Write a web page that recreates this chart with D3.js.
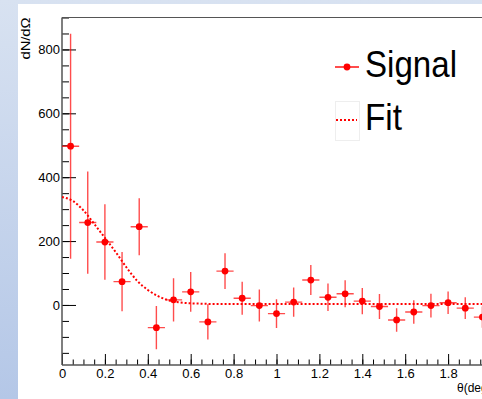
<!DOCTYPE html>
<html>
<head>
<meta charset="utf-8">
<script src="https://cdn.jsdelivr.net/npm/d3@7"></script>
<style>
  body { margin: 0; background: #fff; }
  text { font-family: "Liberation Sans", Arial, sans-serif; }
</style>
</head>
<body>
<svg id="chart"></svg>
<script>
var width = 482,
    height = 399;

// bin centres (theta, deg) and measured signal with errors
var theta = [0.04, 0.12, 0.20, 0.28, 0.36, 0.44, 0.52, 0.60, 0.68, 0.76, 0.84, 0.92, 1.00,
             1.08, 1.16, 1.24, 1.32, 1.40, 1.48, 1.56, 1.64, 1.72, 1.80, 1.88, 1.96];
var signal = [497, 258, 197, 73, 245, -71, 16, 41, -53, 106, 21, -2, -27,
              9, 78, 24, 35, 12, -5, -47, -22, -2, 7, -10, -38];
var signalErr = [352, 160, 118, 93, 89, 68, 68, 62, 55, 56, 52, 50, 45,
                 46, 47, 43, 42, 41, 39, 37, 37, 37, 35, 34, 33];
var thetaErr = 0.04;

// fit curve
var fitTheta = [0, 0.05, 0.10, 0.15, 0.20, 0.25, 0.30, 0.35, 0.40, 0.45, 0.50, 0.55, 0.60, 0.65, 0.70, 2.0];
var fitValue = [338, 326, 296, 254, 210, 166, 118, 76, 47, 27, 14, 8, 5, 4, 3, 3];

var xTicks = [0, 0.2, 0.4, 0.6, 0.8, 1, 1.2, 1.4, 1.6, 1.8, 2];
var yTicks = [0, 200, 400, 600, 800];

var frameL = 62, frameR = 491, frameT = 17.5, frameB = 365;

var svg = d3.select("#chart").attr("width", width).attr("height", height);

// canvas background
var defs = svg.append("defs");
var grad = defs.append("linearGradient").attr("id", "side")
  .attr("x1", 0).attr("y1", 0).attr("x2", 0).attr("y2", 1);
grad.append("stop").attr("offset", 0).attr("stop-color", "#d8e2f1");
grad.append("stop").attr("offset", 1).attr("stop-color", "#b4c7e7");
svg.append("rect").attr("width", width).attr("height", height).attr("fill", "url(#side)");
svg.append("rect").attr("x", 18).attr("y", 4).attr("width", width - 18).attr("height", height - 4)
  .attr("fill", "#fff");

defs.append("clipPath").attr("id", "frame")
  .append("rect").attr("x", frameL).attr("y", frameT)
  .attr("width", frameR - frameL).attr("height", frameB - frameT);

var x = d3.scaleLinear().domain([0, 2]).range([frameL, frameR]);
var y = d3.scaleLinear().domain([-188, 900]).range([frameB, frameT]);

// minor ticks
svg.append("g").attr("transform", "translate(0," + frameB + ")")
  .call(d3.axisBottom(x).tickValues(x.ticks(40)).tickSizeInner(-5.5).tickSizeOuter(0).tickFormat(""))
  .call(g => g.select(".domain").remove());
svg.append("g").attr("transform", "translate(" + frameL + ",0)")
  .call(d3.axisLeft(y).tickValues(y.ticks(20)).tickSizeInner(-7).tickSizeOuter(0).tickFormat(""))
  .call(g => g.select(".domain").remove());

// major ticks + labels
var xAxis = svg.append("g").attr("transform", "translate(0," + frameB + ")")
  .call(d3.axisBottom(x).tickValues(xTicks).tickSizeInner(-11).tickSizeOuter(0).tickPadding(4)
    .tickFormat(d => String(d)));
xAxis.select(".domain").remove();
xAxis.selectAll("text").attr("font-size", 13).attr("fill", "#000");

var yAxis = svg.append("g").attr("transform", "translate(" + frameL + ",0)")
  .call(d3.axisLeft(y).tickValues(yTicks).tickSizeInner(-14).tickSizeOuter(0).tickPadding(2));
yAxis.select(".domain").remove();
yAxis.selectAll("text").attr("font-size", 13).attr("fill", "#000");

// frame lines
svg.append("line").attr("x1", frameL).attr("x2", frameR).attr("y1", frameT).attr("y2", frameT)
  .attr("stroke", "#555").attr("stroke-width", 1.2);
svg.append("line").attr("x1", frameL).attr("x2", frameL).attr("y1", frameT).attr("y2", frameB)
  .attr("stroke", "#555").attr("stroke-width", 1.5);
svg.append("line").attr("x1", frameL).attr("x2", frameR).attr("y1", frameB).attr("y2", frameB)
  .attr("stroke", "#555").attr("stroke-width", 1.5);

// axis titles
svg.append("text").attr("transform", "translate(30,17.5) rotate(-90)")
  .attr("text-anchor", "end").attr("font-size", 12).attr("textLength", 42)
  .attr("lengthAdjust", "spacingAndGlyphs").text("dN/dΩ");
svg.append("text").attr("x", 457).attr("y", 392).attr("font-size", 12).text("θ(deg)");

var plot = svg.append("g").attr("clip-path", "url(#frame)");

// fit
var fitLine = d3.line().x(d => x(d[0])).y(d => y(d[1])).curve(d3.curveMonotoneX);
plot.append("path").datum(d3.zip(fitTheta, fitValue))
  .attr("d", fitLine).attr("fill", "none").attr("stroke", "#ff0000")
  .attr("stroke-width", 2).attr("stroke-dasharray", "2,2");

// signal points
var pts = plot.append("g").selectAll("g").data(d3.range(theta.length)).enter().append("g");
pts.append("line")
  .attr("x1", i => x(theta[i])).attr("x2", i => x(theta[i]))
  .attr("y1", i => y(signal[i] - signalErr[i])).attr("y2", i => y(signal[i] + signalErr[i]))
  .attr("stroke", "#ff0000").attr("stroke-opacity", 0.7).attr("stroke-width", 1.4);
pts.append("line")
  .attr("x1", i => x(theta[i] - thetaErr)).attr("x2", i => x(theta[i] + thetaErr))
  .attr("y1", i => y(signal[i])).attr("y2", i => y(signal[i]))
  .attr("stroke", "#ff0000").attr("stroke-opacity", 0.7).attr("stroke-width", 1.4);
pts.append("circle")
  .attr("cx", i => x(theta[i])).attr("cy", i => y(signal[i])).attr("r", 3.4)
  .attr("fill", "#ff0000");

// legend
var legend = svg.append("g");
legend.append("line").attr("x1", 335).attr("x2", 359).attr("y1", 67).attr("y2", 67)
  .attr("stroke", "#ff0000").attr("stroke-width", 1.4);
legend.append("circle").attr("cx", 347).attr("cy", 67).attr("r", 3.4).attr("fill", "#ff0000");
legend.append("text").attr("x", 365).attr("y", 77).attr("font-size", 36)
  .attr("textLength", 92).attr("lengthAdjust", "spacingAndGlyphs").text("Signal");
legend.append("rect").attr("x", 335.5).attr("y", 101.5).attr("width", 24).attr("height", 39)
  .attr("fill", "none").attr("stroke", "#eee");
legend.append("line").attr("x1", 336).attr("x2", 357).attr("y1", 120).attr("y2", 120)
  .attr("stroke", "#ff0000").attr("stroke-width", 2).attr("stroke-dasharray", "2,2");
legend.append("text").attr("x", 365).attr("y", 130).attr("font-size", 36)
  .attr("textLength", 37).attr("lengthAdjust", "spacingAndGlyphs").text("Fit");
</script>
</body>
</html>
